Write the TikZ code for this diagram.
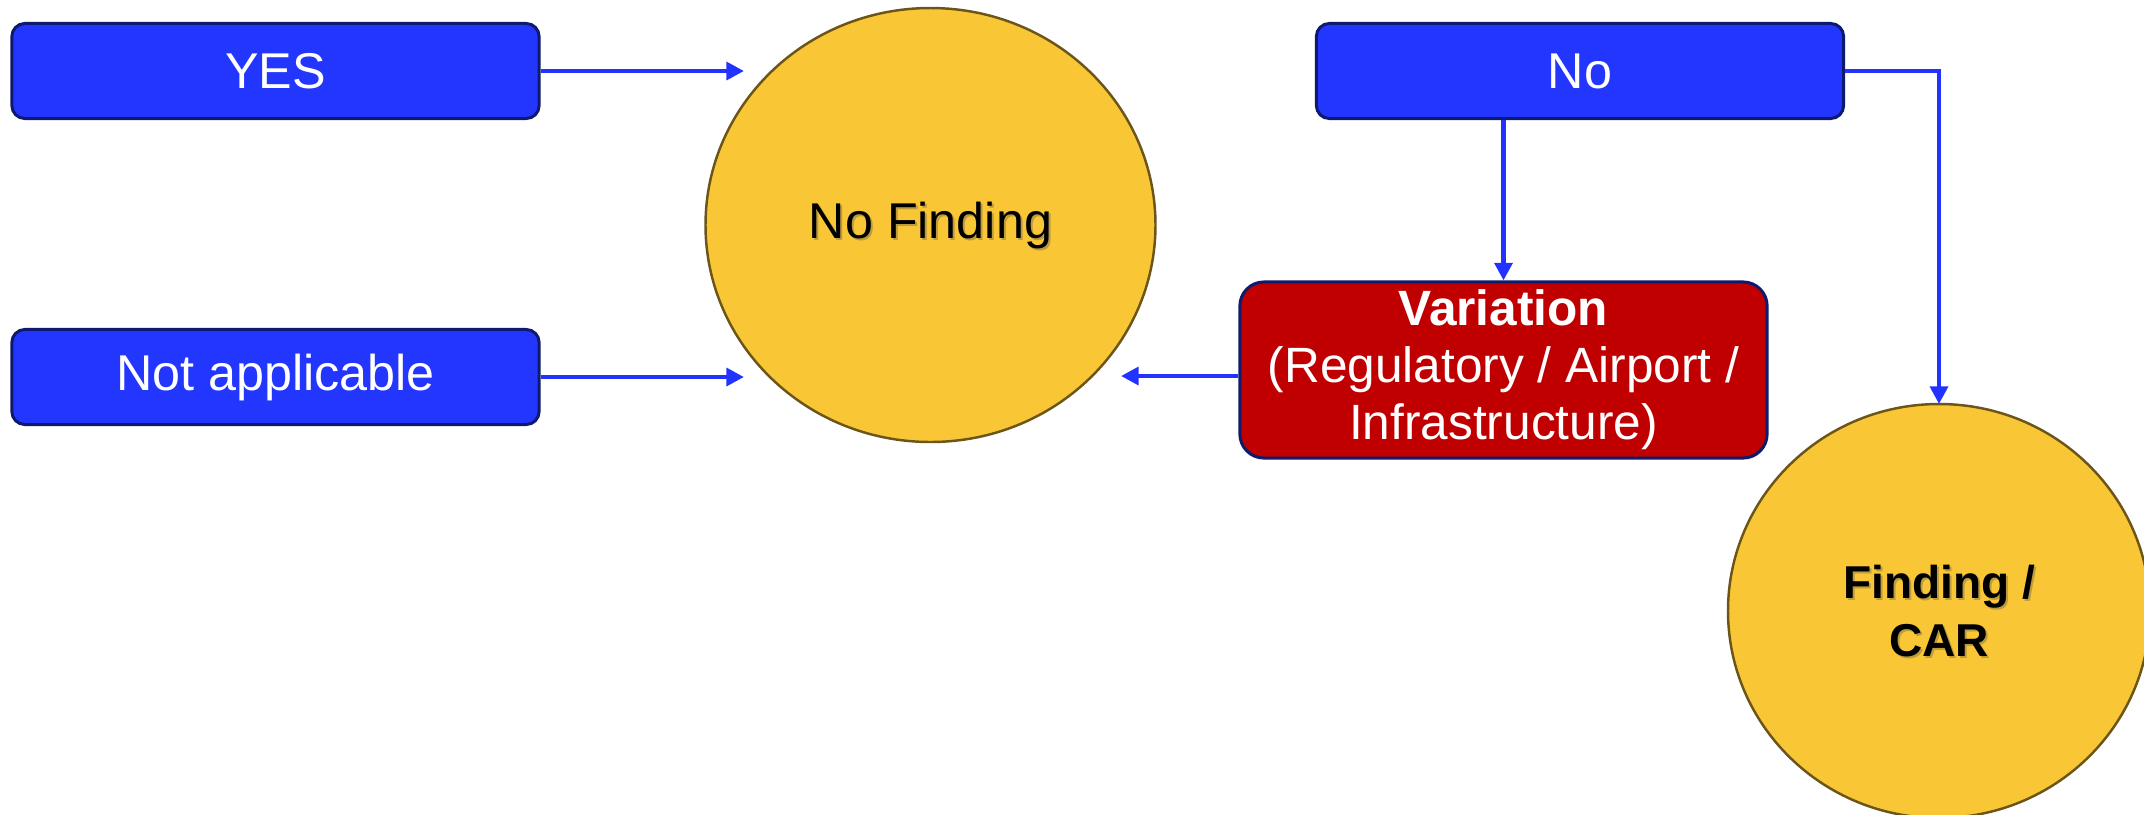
\documentclass[tikz,border=0pt]{standalone}
\usepackage{fontspec}
\setmainfont{Liberation Sans}
\usetikzlibrary{arrows.meta}
\definecolor{boxblue}{HTML}{2236FE}
\definecolor{boxedge}{HTML}{0D1A6E}
\definecolor{linkblue}{HTML}{2233FF}
\definecolor{varred}{HTML}{C00000}
\definecolor{discfill}{HTML}{F9C735}
\definecolor{discedge}{HTML}{6B5518}
\begin{document}
\begin{tikzpicture}[x=0.01cm,y=-0.01cm,
  answer/.style={draw=boxedge,line width=0.85pt,fill=boxblue,rounded corners=0.13cm,
    minimum width=5.27cm,minimum height=0.95cm,inner sep=0pt,text=white,
    font=\fontsize{14.3}{17}\selectfont},
  variation/.style={draw=boxedge,line width=0.85pt,fill=varred,rounded corners=0.24cm,
    minimum width=5.27cm,minimum height=1.76cm,inner sep=0pt,text=white,align=center,
    font=\fontsize{14.1}{16.2}\selectfont},
  disc/.style={draw=discedge,line width=0.7pt,fill=discfill,ellipse,inner sep=0pt},
  disctext/.style={text=black,align=center},
  discshadow/.style={text=black!70,opacity=0.35,align=center},
  link/.style={draw=linkblue,line width=1.4pt,-{Triangle[length=5pt,width=5pt]}}
]
\useasboundingbox (0,0) rectangle (2144,814);

% decision answers
\node[answer] (yes) at (275.5,71) {YES};
\node[answer] (na) at (275.5,377) {Not applicable};
\node[answer] (no) at (1580,71) {No};
\node[variation] (var) at (1503.5,370)
  {\textbf{Variation}\\(Regulatory / Airport /\\Infrastructure)};

% outcome discs
\draw[draw=discedge,line width=0.7pt,fill=discfill] (930.5,225) ellipse [x radius=225, y radius=217];
\coordinate (nf) at (930.5,225);
\node[discshadow,font=\fontsize{14.3}{17}\selectfont] (nfs) at (932.5,227) {No Finding};
\node[disctext,font=\fontsize{14.3}{17}\selectfont] (nft) at (nf) {No Finding};

\draw[draw=discedge,line width=0.7pt,fill=discfill] (1939,611) ellipse [x radius=211, y radius=207];
\coordinate (fc) at (1939,611);
\coordinate (fctop) at (1939,404);
\node[discshadow,font=\fontsize{13.1}{16.5}\selectfont\bfseries] (fcs) at (1941,613) {Finding /\\CAR};
\node[disctext,font=\fontsize{13.1}{16.5}\selectfont\bfseries] (fct) at (fc) {Finding /\\CAR};

% arrow ends short of the No Finding disc
\coordinate (nfyes) at (744,71);
\coordinate (nfna) at (744,377);
\coordinate (nfvar) at (1121,376);

% connectors
\draw[link] (yes.east) -- (nfyes);
\draw[link] (na.east) -- (nfna);
\draw[link] (no.south -| var.north) -- (var.north);
\draw[link] (no.east) -| (fctop);
\draw[link] (var.west |- nfvar) -- (nfvar);
\end{tikzpicture}
\end{document}
